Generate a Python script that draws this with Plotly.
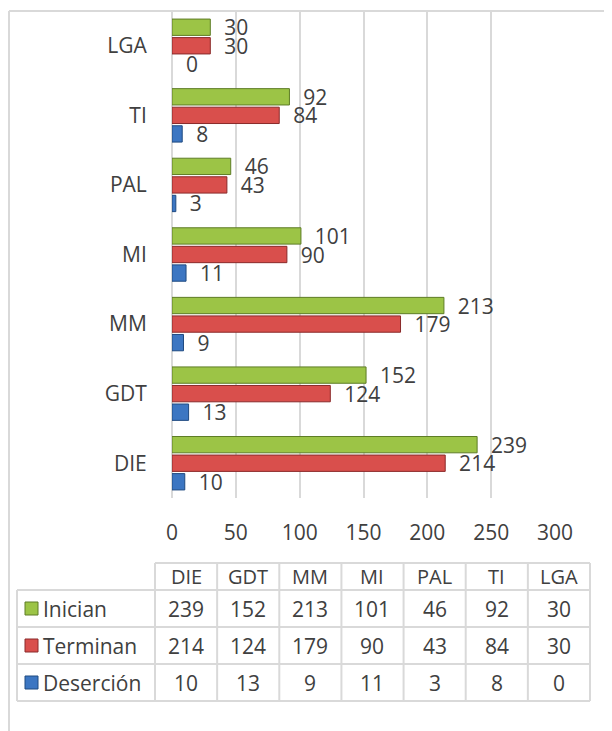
import plotly.graph_objects as go

# the page body has an 8px margin, so the figure is 8px smaller and all
# positions below are given in page pixels and shifted by OFF
OFF = 8
W, H = 612 - OFF, 731 - OFF

categories = ['DIE', 'GDT', 'MM', 'MI', 'PAL', 'TI', 'LGA']
inician = [239, 152, 213, 101, 46, 92, 30]
terminan = [214, 124, 179, 90, 43, 84, 30]
desercion = [10, 13, 9, 11, 3, 8, 0]
x_ticks = [0, 50, 100, 150, 200, 250, 300]

series = [
	('Inician', inician, '#9cc446', '#5e7d26'),
	('Terminan', terminan, '#d94f4c', '#8a2a2a'),
	('Deserción', desercion, '#3c76c2', '#1f4a80'),
]

FONT = 'Open Sans'
TXT = '#404040'
GRID = '#d9d9d9'


def px(x):
	return (x - OFF) / W


def py(y):
	return 1 - (y - OFF) / H


fig = go.Figure()

# plotly puts the first trace at the bottom of each group
for name, vals, color, line in reversed(series):
	fig.add_trace(go.Bar(
		y=categories,
		x=vals,
		name=name,
		orientation='h',
		marker=dict(color=color, line=dict(color=line, width=[1 if v else 0 for v in vals])),
		text=vals,
		texttemplate='  %{x}',
		textposition='outside',
		textfont=dict(family=FONT, size=21, color=TXT),
		constraintext='none',
		cliponaxis=False,
	))

fig.update_layout(
	width=W,
	height=H,
	margin=dict(l=0, r=0, t=0, b=0, pad=0, autoexpand=False),
	paper_bgcolor='white',
	plot_bgcolor='white',
	showlegend=False,
	barmode='group',
	bargap=0.2,
	bargroupgap=0.12,
	font=dict(family=FONT, color=TXT),
	xaxis=dict(
		domain=[px(172), px(555)],
		range=[0, 300],
		tickvals=x_ticks,
		showgrid=True,
		gridcolor=GRID,
		gridwidth=2,
		zeroline=True,
		zerolinecolor=GRID,
		zerolinewidth=2,
		ticks='outside',
		ticklen=16,
		tickcolor='rgba(0,0,0,0)',
		tickfont=dict(size=21, color=TXT),
		automargin=False,
		fixedrange=True,
	),
	yaxis=dict(
		domain=[py(498), py(11)],
		categoryorder='array',
		categoryarray=categories,
		showgrid=False,
		ticks='outside',
		ticklen=20,
		tickcolor='rgba(0,0,0,0)',
		tickfont=dict(size=21, color=TXT),
		automargin=False,
		fixedrange=True,
	),
)

shapes = []
annotations = []

# chart frame (left and top edges visible)
shapes.append(dict(type='line', xref='paper', yref='paper', x0=px(9), x1=px(9), y0=py(11), y1=0,
				   line=dict(color=GRID, width=2)))
shapes.append(dict(type='line', xref='paper', yref='paper', x0=px(9), x1=1, y0=py(11), y1=py(11),
				   line=dict(color=GRID, width=2)))

# data table below the chart
tbl_left, lbl_right, tbl_right = 17, 155, 590
hdr_top, row_top, row_h = 563, 590, 37
n_cols = len(categories)
col_w = (tbl_right - lbl_right) / n_cols
tbl_bottom = row_top + row_h * len(series)
tline = dict(color=GRID, width=2)

# horizontal lines
shapes.append(dict(type='line', xref='paper', yref='paper', x0=px(lbl_right), x1=px(tbl_right),
				   y0=py(hdr_top), y1=py(hdr_top), line=tline))
for i in range(len(series) + 1):
	yy = row_top + i * row_h
	shapes.append(dict(type='line', xref='paper', yref='paper', x0=px(tbl_left), x1=px(tbl_right),
					   y0=py(yy), y1=py(yy), line=tline))
# vertical lines
shapes.append(dict(type='line', xref='paper', yref='paper', x0=px(tbl_left), x1=px(tbl_left),
				   y0=py(row_top), y1=py(tbl_bottom), line=tline))
for j in range(n_cols + 1):
	xx = lbl_right + j * col_w
	shapes.append(dict(type='line', xref='paper', yref='paper', x0=px(xx), x1=px(xx),
					   y0=py(hdr_top), y1=py(tbl_bottom), line=tline))

# header labels
for j, cat in enumerate(categories):
	annotations.append(dict(xref='paper', yref='paper', x=px(lbl_right + (j + 0.5) * col_w),
							y=py((hdr_top + row_top) / 2), text=cat, showarrow=False,
							font=dict(family=FONT, size=20, color=TXT), xanchor='center', yanchor='middle'))

# rows
for i, (name, vals, color, line) in enumerate(series):
	yc = row_top + (i + 0.5) * row_h
	shapes.append(dict(type='rect', xref='paper', yref='paper', x0=px(25), x1=px(38),
					   y0=py(yc + 6.5), y1=py(yc - 6.5), fillcolor=color, line=dict(color=line, width=1)))
	annotations.append(dict(xref='paper', yref='paper', x=px(41), y=py(yc), text=name, showarrow=False,
							font=dict(family=FONT, size=21, color=TXT), xanchor='left', yanchor='middle'))
	for j, v in enumerate(vals):
		annotations.append(dict(xref='paper', yref='paper', x=px(lbl_right + (j + 0.5) * col_w), y=py(yc),
								text=str(v), showarrow=False, font=dict(family=FONT, size=21, color=TXT),
								xanchor='center', yanchor='middle'))

fig.update_layout(shapes=shapes, annotations=annotations)

fig.write_html("out.html")
